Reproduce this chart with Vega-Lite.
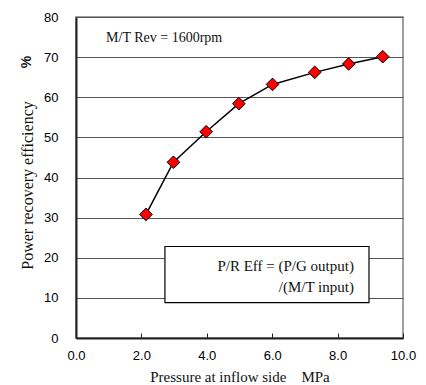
{
  "$schema": "https://vega.github.io/schema/vega-lite/v6.json",
  "autosize": "none",
  "width": 327,
  "height": 321,
  "padding": {"left": 76, "top": 17, "right": 23, "bottom": 47},
  "background": "white",
  "config": {
    "view": {"stroke": "#808080", "strokeWidth": 1.5},
    "axis": {"labelFont": "Liberation Sans", "labelFontSize": 13, "labelColor": "#000", "titleFont": "Liberation Serif", "titleFontWeight": "normal", "titleColor": "#111", "titleFontSize": 16}
  },
  "datasets": {
    "pts": [
      {"p": 2.14, "e": 30.8},
      {"p": 2.98, "e": 43.8},
      {"p": 3.98, "e": 51.4},
      {"p": 4.98, "e": 58.4},
      {"p": 6.01, "e": 63.2},
      {"p": 7.3, "e": 66.2},
      {"p": 8.34, "e": 68.3},
      {"p": 9.38, "e": 70.1}
    ]
  },
  "layer": [
    {
      "data": {"name": "pts"},
      "mark": {"type": "line", "color": "black", "strokeWidth": 1.5},
      "encoding": {
        "x": {"field": "p", "type": "quantitative", "scale": {"domain": [0, 10], "nice": false},
          "axis": {"values": [0, 2, 4, 6, 8, 10], "format": ".1f", "grid": false, "labelFlush": false, "domainColor": "#222", "domainWidth": 2, "tickColor": "#222", "tickSize": -5, "labelPadding": 16, "title": "Pressure at inflow side　MPa", "titleFontSize": 15, "titleBaseline": "top", "titleY": 31}},
        "y": {"field": "e", "type": "quantitative", "scale": {"domain": [0, 80], "nice": false},
          "axis": {"values": [0, 10, 20, 30, 40, 50, 60, 70, 80], "grid": true, "gridColor": "#555", "gridWidth": 1, "ticks": false, "labelFlush": false, "domainColor": "#222", "domainWidth": 2, "labelPadding": 18, "title": "Power recovery efficiency", "titleX": -49, "titleY": 168, "titleAngle": -90, "titleAlign": "center", "titleBaseline": "middle"}}
      }
    },
    {
      "data": {"name": "pts"},
      "mark": {"type": "point", "shape": "diamond", "filled": true, "fill": "#ff0000", "stroke": "black", "strokeWidth": 1, "size": 160, "opacity": 1},
      "encoding": {
        "x": {"field": "p", "type": "quantitative"},
        "y": {"field": "e", "type": "quantitative"}
      }
    },
    {
      "data": {"values": [{"x1": 2.72, "x2": 8.96, "y1": 8.8, "y2": 22.8}]},
      "mark": {"type": "rect", "fill": "white", "stroke": "black", "strokeWidth": 1.2},
      "encoding": {
        "x": {"field": "x1", "type": "quantitative"},
        "x2": {"field": "x2"},
        "y": {"field": "y1", "type": "quantitative"},
        "y2": {"field": "y2"}
      }
    },
    {
      "data": {"values": [{"x": 8.5, "y": 18.0, "t": "P/R Eff = (P/G output)"}, {"x": 8.5, "y": 12.8, "t": "/(M/T input)"}]},
      "mark": {"type": "text", "align": "right", "baseline": "middle", "font": "Liberation Serif", "fontSize": 15, "color": "#111"},
      "encoding": {
        "x": {"field": "x", "type": "quantitative"},
        "y": {"field": "y", "type": "quantitative"},
        "text": {"field": "t"}
      }
    },
    {
      "data": {"values": [{"x": 0.92, "y": 74.8, "t": "M/T Rev = 1600rpm"}]},
      "mark": {"type": "text", "align": "left", "baseline": "middle", "font": "Liberation Serif", "fontSize": 14, "color": "#111"},
      "encoding": {
        "x": {"field": "x", "type": "quantitative"},
        "y": {"field": "y", "type": "quantitative"},
        "text": {"field": "t"}
      }
    },
    {
      "data": {"values": [{"x": -1.5, "y": 68.8, "t": "%"}]},
      "mark": {"type": "text", "align": "center", "baseline": "middle", "angle": 270, "font": "Liberation Sans", "fontWeight": "bold", "fontSize": 14, "color": "#111"},
      "encoding": {
        "x": {"field": "x", "type": "quantitative"},
        "y": {"field": "y", "type": "quantitative"},
        "text": {"field": "t"}
      }
    }
  ]
}
